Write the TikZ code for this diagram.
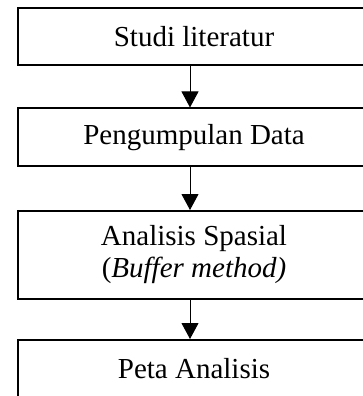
\documentclass[tikz,border=0pt]{standalone}
\usepackage{fontspec}
\setmainfont{Liberation Serif}
\usetikzlibrary{arrows.meta}
\begin{document}
\begin{tikzpicture}[x=1pt,y=-1pt,
  stepbox/.style={draw=black,line width=2pt,rectangle,minimum width=352pt,inner sep=0pt,align=center,font=\fontsize{29}{32}\selectfont},
  flow/.style={line width=1pt,-{Triangle[width=17pt,length=16pt]}}]
\useasboundingbox (0,0) rectangle (363,396);
\node[stepbox,minimum height=57.5pt] (b1) at (194,36.3) {Studi literatur};
\node[stepbox,minimum height=57.5pt] (b2) at (194,137.2) {Pengumpulan Data};
\node[stepbox,minimum height=88pt] (b3) at (194,255) {Analisis Spasial\\(\textit{Buffer method)}};
\node[stepbox,minimum height=58pt] (b4) at (194,369) {Peta Analisis};
\draw[flow] ([xshift=-4pt]b1.south) -- ([xshift=-4pt]b2.north);
\draw[flow] ([xshift=-4pt]b2.south) -- ([xshift=-4pt]b3.north);
\draw[flow] ([xshift=-4pt]b3.south) -- ([xshift=-4pt]b4.north);
\end{tikzpicture}
\end{document}
